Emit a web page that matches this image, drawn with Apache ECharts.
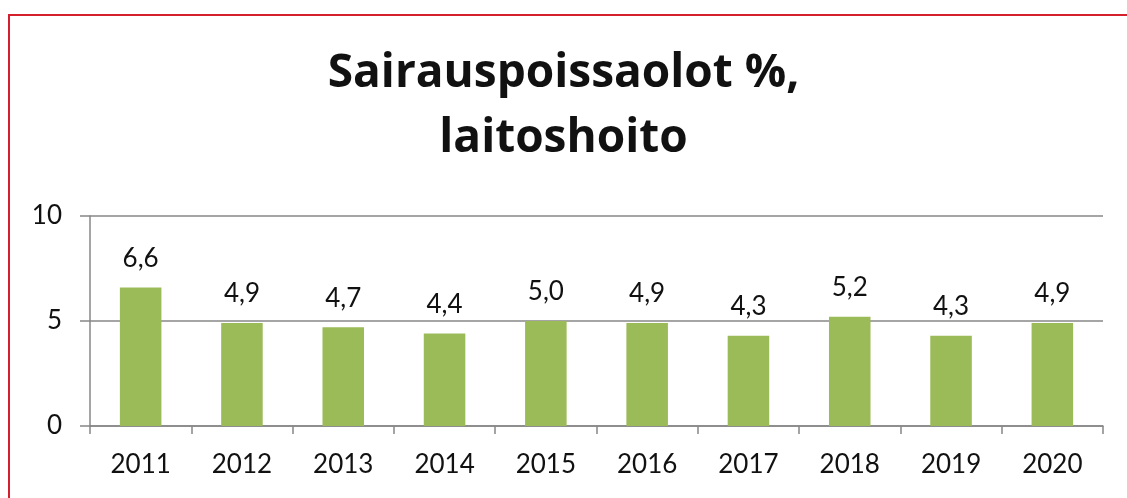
<!DOCTYPE html>
<html>
<head>
<meta charset="utf-8">
<script src="https://cdn.jsdelivr.net/npm/echarts@6/dist/echarts.min.js"></script>
<style>
  html, body { margin: 0; padding: 0; background: #fff; overflow: hidden; }
  #frame { position: absolute; left: 8px; top: 14px; width: 1200px; height: 600px;
           border-top: 2px solid #d3202c; border-left: 2px solid #d3202c; }
  #chart { position: absolute; left: 0; top: 0; width: 1127px; height: 498px; }
</style>
</head>
<body>
<div id="frame"></div>
<div id="chart"></div>
<script>
// vuodet ja arvot
const years = ['2011', '2012', '2013', '2014', '2015', '2016', '2017', '2018', '2019', '2020'];
const sickLeave = [6.6, 4.9, 4.7, 4.4, 5.0, 4.9, 4.3, 5.2, 4.3, 4.9];
const yTicks = [0, 5, 10];

const chart = echarts.init(document.getElementById('chart'));
const axisGray = '#878787';
const font = 'Lato, "Open Sans", sans-serif';

const option = {
  animation: false,
  title: {
    text: 'Sairauspoissaolot %,\nlaitoshoito',
    left: 'center',
    top: 41,
    padding: [0, 0, 0, 36],
    textStyle: {
      fontFamily: '"Open Sans", sans-serif',
      fontSize: 46,
      fontWeight: 'bold',
      color: '#111',
      lineHeight: 65,
      align: 'center'
    }
  },
  grid: {
    left: 90,
    right: 24,
    top: 216,
    bottom: 72
  },
  xAxis: {
    type: 'category',
    data: years,
    axisLine: { lineStyle: { color: axisGray, width: 1.5 } },
    axisTick: { show: true, length: 8, lineStyle: { color: axisGray, width: 1.5 } },
    axisLabel: { margin: 26, fontFamily: font, fontSize: 26, color: '#111' }
  },
  yAxis: {
    type: 'value',
    min: yTicks[0],
    max: yTicks[yTicks.length - 1],
    interval: 5,
    axisLine: { show: true, lineStyle: { color: axisGray, width: 1.5 } },
    axisTick: { show: true, inside: false, length: 10, lineStyle: { color: axisGray, width: 1.5 } },
    splitLine: { lineStyle: { color: axisGray, width: 1.5 } },
    axisLabel: { margin: 28, fontFamily: font, fontSize: 26, color: '#111' }
  },
  series: [
    {
      type: 'bar',
      data: sickLeave,
      barCategoryGap: '59%',
      itemStyle: { color: '#9bbb59' },
      label: {
        show: true,
        position: 'top',
        distance: 16,
        fontFamily: font,
        fontSize: 26,
        color: '#111',
        formatter: p => p.value.toFixed(1).replace('.', ',')
      }
    }
  ]
};
chart.setOption(option);
</script>
</body>
</html>
